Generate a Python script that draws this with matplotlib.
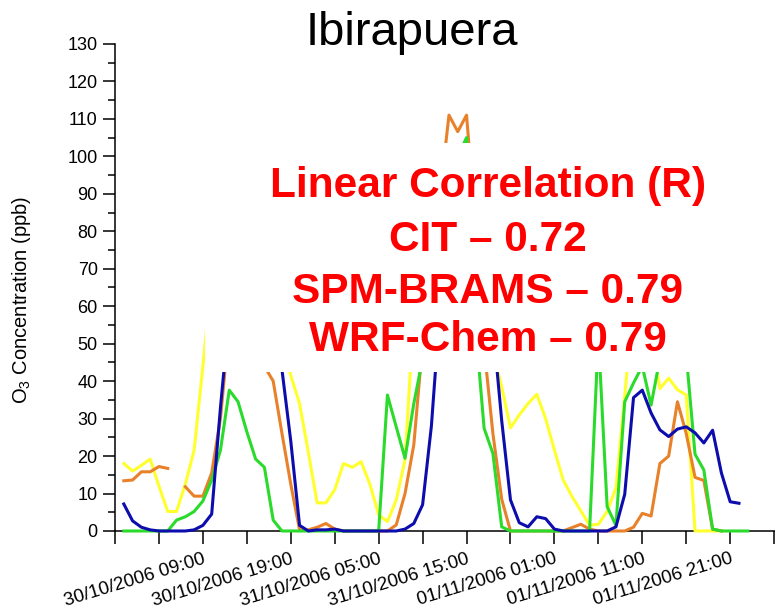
"""
Ibirapuera O3 time series (30/10 - 01/11/2006), four series + correlation box.
"""
import matplotlib
matplotlib.use("Agg")
import matplotlib.pyplot as plt
import numpy as np
from matplotlib.patches import Rectangle

plt.rcParams.update({
    "font.family": ["Liberation Sans", "DejaVu Sans"],
    "mathtext.default": "regular",
    "axes.linewidth": 1.1,
})

nan = np.nan

# hours since 30/10/2006 00:00
hours = np.arange(72)

o3_yellow = [18, 16, 17.5, 19.2, 12, 5.2, 5.2, 12.5, 21.5, 44,
             68, 82, 92, 98, 100, 95, 85, 68, 50, 41.5,
             34, 21, 7.5, 7.5, 11, 18, 17, 18.5, 12.5, 4.3,
             2.5, 8.3, 19, 58, 75, 88, 96, 100, 98, 90,
             76, 60, 48, 38.5, 27.5, 31, 34, 36.5, 30, 21.6,
             13.6, 9.2, 5.4, 1.5, 1.8, 5.2, 11.5, 36, 62, 65,
             53, 38, 40.8, 37.7, 36.3, 0, 0, 0, 0, nan,
             nan, nan]

o3_orange = [13.4, 13.6, 15.8, 15.8, 17.2, 16.7, nan, 11.8, 9.3, 9.3,
             15.5, 30, 55, 68, 74, 62, 44, 40, 26, 12.5,
             0.3, 0.3, 1, 2, 0.5, 0, 0, 0, 0, 0,
             0, 1.6, 10, 23, 50, 68, 90, 111, 106.6, 111,
             82, 49, 26, 8.5, 0, 0, 0, 0, 0, 0,
             0, 0.9, 1.8, 0.5, 0, 0, 0, 0, 1, 4.7,
             4, 18, 20, 34.5, 26, 14.3, 13.5, 0.5, 0, nan,
             nan, nan]

o3_green = [0, 0, 0, 0, 0, 0, 2.9, 3.8, 5.2, 8,
            13.6, 21.6, 37.6, 34.5, 26.5, 19.2, 17, 2.9, 0, 0,
            0, 0, 0, 0, 0, 0, 0, 0, 0, 0,
            36.3, 27.8, 19.4, 34, 46, 62, 78, 90, 100, 105,
            55, 27.4, 20.7, 1.1, 0, 0, 0, 0, 0, 0,
            0, 0, 0, 0, 52, 6.5, 1.5, 34.5, 39.5, 44,
            33.6, 46, 56, 52, 47, 20.5, 16.3, 0.5, 0, 0,
            0, 0]

o3_blue = [7.2, 2.7, 1, 0.3, 0, 0, 0, 0, 0.3, 1.5,
           4.5, 33, 58, 75, 85, 88, 82, 64, 43, 24,
           1.5, 0, 0.3, 0.3, 0.5, 0, 0, 0, 0, 0,
           0, 0, 0.5, 2, 7, 28, 60, 76, 86, 90,
           86, 72, 55, 29.5, 8.3, 2.2, 1.1, 3.8, 3.3, 0.5,
           0, 0, 0, 0, 0, 0, 1.1, 9.8, 35.6, 37.6,
           31.5, 27, 25.2, 27.2, 27.8, 26.2, 23.5, 26.9, 15.5, 7.8,
           7.4, nan]

tick_hours = [9, 19, 29, 39, 49, 59, 69]
tick_labels = ["30/10/2006 09:00", "30/10/2006 19:00", "31/10/2006 05:00",
               "31/10/2006 15:00", "01/11/2006 01:00", "01/11/2006 11:00",
               "01/11/2006 21:00"]
minor_hours = [-1, 4, 14, 24, 34, 44, 54, 64, 74]

corr_lines = ["Linear Correlation (R)", "CIT \u2013 0.72",
              "SPM-BRAMS \u2013 0.79", "WRF-Chem \u2013 0.79"]
corr_y_px = [186, 240, 292, 340]

fig = plt.figure(figsize=(7.75, 6.14), dpi=100)
ax = fig.add_axes([0.1484, 0.1352, 0.8516, 0.7932])

for vals, col in [(o3_yellow, "#FFFF2E"), (o3_orange, "#E8812A"),
                  (o3_green, "#2BDB2B"), (o3_blue, "#0D0DAD")]:
    ax.plot(hours, vals, color=col, lw=2.2, zorder=3, clip_on=False)

ax.set_xlim(-1, 74.1)
ax.set_ylim(0, 130)
ax.set_yticks(np.arange(0, 131, 10))
ax.set_yticks(np.arange(5, 130, 10), minor=True)
ax.set_xticks(tick_hours)
ax.set_xticklabels(tick_labels, rotation=17, ha="right",
                   rotation_mode="anchor")
ax.set_xticks(minor_hours, minor=True)

ax.spines["top"].set_visible(False)
ax.spines["right"].set_visible(False)
ax.tick_params(axis="y", which="major", direction="out", length=8.5,
               width=1.1, labelsize=13, pad=4)
ax.tick_params(axis="y", which="minor", direction="out", length=5, width=1.1)
ax.tick_params(axis="x", which="both", direction="out", length=9,
               width=1.1, labelsize=13.5, pad=5)

fig.text(22 / 775, 1 - 300 / 614, "O$_3$ Concentration (ppb)", fontsize=14.5,
         rotation=90, ha="center", va="center")

# white box hiding the peaks, with correlation text
ax.add_patch(Rectangle((0.136, 0.3265), 0.75, 0.4705, transform=ax.transAxes,
                       facecolor="white", edgecolor="none", zorder=4))
for txt, ypx in zip(corr_lines, corr_y_px):
    fig.text(488 / 775, 1 - ypx / 614, txt, color="#FF0000",
             fontsize=30.5, fontweight="bold", ha="center", va="center",
             zorder=5)

fig.text(412 / 775, 1 - 45 / 614, "Ibirapuera", fontsize=34,
         ha="center", va="baseline")

fig.savefig("out.png", dpi=100)
